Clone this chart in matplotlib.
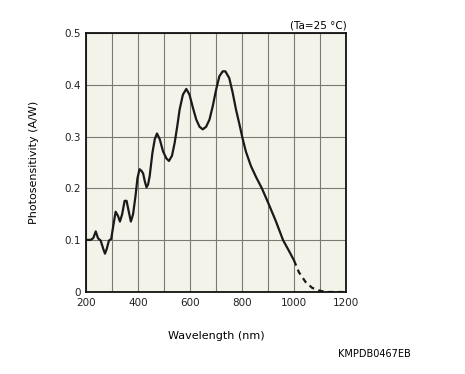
import matplotlib
matplotlib.use("Agg")
import matplotlib.pyplot as plt

wl_solid = [200, 203, 218, 228, 237.5, 246, 256.6, 266.6, 273, 279.6, 288, 297, 305, 314, 323,
            330.5, 339, 348.5, 356, 365, 372.6, 381, 390.6, 398, 406, 413, 419.7, 426, 432.7, 439,
            445, 455.6, 464.5, 473, 483.6, 496, 509, 519, 530.7, 541, 551, 560, 572.7, 585.8,
            598, 611, 624, 636.7, 649, 662, 675, 687.6, 700.6, 713, 725.8, 736, 751, 764,
            777, 790, 802, 815, 834.5, 855, 876.6, 900, 930, 958, 980, 1000]
ps_solid = [0.100, 0.1006, 0.1006, 0.104, 0.117, 0.104, 0.099, 0.083, 0.074, 0.083, 0.099, 0.1025, 0.128, 0.155, 0.147,
            0.136, 0.150, 0.176, 0.176, 0.154, 0.136, 0.150, 0.186, 0.220, 0.237, 0.234, 0.229, 0.214, 0.202, 0.208,
            0.224, 0.269, 0.295, 0.306, 0.295, 0.272, 0.258, 0.253, 0.263, 0.288, 0.320, 0.352, 0.381, 0.392,
            0.381, 0.356, 0.333, 0.319, 0.314, 0.319, 0.333, 0.359, 0.391, 0.4165, 0.426, 0.426, 0.413, 0.385,
            0.352, 0.324, 0.297, 0.271, 0.243, 0.221, 0.200, 0.173, 0.137, 0.100, 0.080, 0.061]
# Extrapolated tail (dashed)
wl_dash = [1000, 1019, 1045, 1070, 1096, 1120, 1200]
ps_dash = [0.061, 0.038, 0.019, 0.008, 0.003, 0.0, 0.0]

xticks = [200, 400, 600, 800, 1000, 1200]
yticks = [0, 0.1, 0.2, 0.3, 0.4, 0.5]
yticklabels = ["0", "0.1", "0.2", "0.3", "0.4", "0.5"]

fig = plt.figure(figsize=(4.65, 3.74), dpi=100)
ax = fig.add_axes([86/465, 1-292/374, 260/465, 259/374])
ax.set_facecolor("#f4f3ea")

ax.plot(wl_solid, ps_solid, color="#1a1a1a", lw=1.6, solid_joinstyle="round", solid_capstyle="round")
ax.plot(wl_dash, ps_dash, color="#1a1a1a", lw=1.6, ls=(0, (2.5, 2)))

ax.set_xlim(200, 1200)
ax.set_ylim(0, 0.5)
ax.set_xticks(xticks)
ax.set_xticks(range(200, 1201, 100), minor=True)
ax.set_yticks(yticks)
ax.set_yticklabels(yticklabels)
ax.grid(True, which="both", color="#7a7a72", lw=0.8)
ax.set_axisbelow(True)
ax.tick_params(which="both", length=0, labelsize=7.5, colors="#222222")
ax.tick_params(axis="x", pad=4)
ax.tick_params(axis="y", pad=4)
for s in ax.spines.values():
    s.set_color("#111111")
    s.set_linewidth(1.3)

ax.set_xlabel("Wavelength (nm)", fontsize=8, labelpad=17)
ax.set_ylabel("Photosensitivity (A/W)", fontsize=8, labelpad=18)
fig.text(347/465, 1-26/374, "(Ta=25 °C)", ha="right", va="center", fontsize=7.5)
fig.text(374/465, 1-354/374, "KMPDB0467EB", ha="center", va="center", fontsize=7)

fig.savefig("out.png", dpi=100)
